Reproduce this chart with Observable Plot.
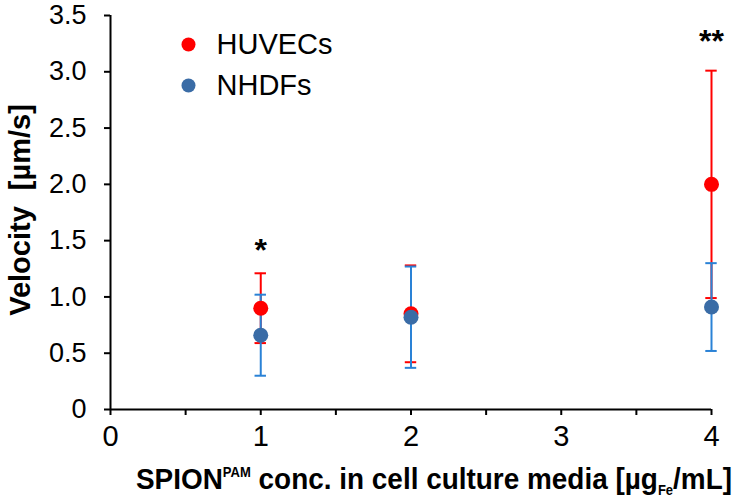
<!DOCTYPE html>
<html>
<head>
<meta charset="utf-8">
<script src="https://cdn.jsdelivr.net/npm/d3@7"></script>
<script src="https://cdn.jsdelivr.net/npm/@observablehq/plot@0.6"></script>
<style>
  html, body { margin: 0; padding: 0; background: white; }
  #chart svg { display: block; }
</style>
</head>
<body>
<div id="chart"></div>
<script>
// Data
const concentrations = [1, 2, 4];
const huvecMean = [0.90, 0.85, 2.00];
const huvecLow  = [0.59, 0.42, 0.99];
const huvecHigh = [1.21, 1.28, 3.01];
const nhdfMean  = [0.66, 0.82, 0.91];
const nhdfLow   = [0.30, 0.37, 0.52];
const nhdfHigh  = [1.02, 1.27, 1.30];
const sigX = [1, 4];
const sigLabel = ["*", "**"];
const sigY = [1.41, 3.27];
const seriesNames = ["HUVECs", "NHDFs"];
const yTicks = [0, 0.5, 1, 1.5, 2, 2.5, 3, 3.5];
const xTicks = [0, 0.5, 1, 1.5, 2, 2.5, 3, 3.5, 4];

const red = "#ff0000";
const blueDot = "#3a6ca6";
const blueBar = "#2a82d6";
const cap = 0.038;

const huvec = concentrations.map((x, i) => ({x, m: huvecMean[i], lo: huvecLow[i], hi: huvecHigh[i]}));
const nhdf = concentrations.map((x, i) => ({x, m: nhdfMean[i], lo: nhdfLow[i], hi: nhdfHigh[i]}));
const sig = sigX.map((x, i) => ({x, y: sigY[i], t: sigLabel[i]}));

function bars(data, color) {
  return [
    Plot.ruleX(data, {x: "x", y1: "lo", y2: "hi", stroke: color, strokeWidth: 2}),
    Plot.ruleY(data, {y: "hi", x1: d => d.x - cap, x2: d => d.x + cap, stroke: color, strokeWidth: 2}),
    Plot.ruleY(data, {y: "lo", x1: d => d.x - cap, x2: d => d.x + cap, stroke: color, strokeWidth: 2})
  ];
}

const chart = Plot.plot({
  width: 735,
  height: 500,
  marginLeft: 110,
  marginRight: 24,
  marginTop: 15,
  marginBottom: 91,
  style: {fontFamily: "'Liberation Sans', Arial, sans-serif", background: "white", color: "black"},
  x: {domain: [0, 4]},
  y: {domain: [0, 3.5]},
  marks: [
    Plot.axisY({ticks: yTicks, tickSize: 6, tickPadding: 18, fontSize: 27, strokeWidth: 2,
      tickFormat: d => d === 0 ? "0" : d.toFixed(1), label: null}),
    Plot.axisX({ticks: xTicks, tickSize: 6, tickPadding: 10, fontSize: 29, strokeWidth: 2,
      tickFormat: d => Number.isInteger(d) ? String(d) : "", label: null}),
    Plot.ruleY([0], {strokeWidth: 2}),
    Plot.ruleX([0], {strokeWidth: 2}),
    ...bars(huvec, red),
    ...bars(nhdf, blueBar),
    Plot.dot(huvec, {x: "x", y: "m", r: 7.5, fill: red}),
    Plot.dot(nhdf, {x: "x", y: "m", r: 7.5, fill: blueDot}),
    Plot.text(sig, {x: "x", y: "y", text: "t", fontSize: 32, fontWeight: "bold", lineAnchor: "middle"}),
    // legend
    Plot.dot([seriesNames[0]], {frameAnchor: "top-left", dx: 78, dy: 29, r: 7, fill: red}),
    Plot.dot([seriesNames[1]], {frameAnchor: "top-left", dx: 78, dy: 70, r: 7, fill: blueDot}),
    Plot.text([seriesNames[0]], {text: d => d, frameAnchor: "top-left", dx: 106, dy: 29, fontSize: 29, textAnchor: "start", lineAnchor: "middle"}),
    Plot.text([seriesNames[1]], {text: d => d, frameAnchor: "top-left", dx: 106, dy: 70, fontSize: 29, textAnchor: "start", lineAnchor: "middle"})
  ]
});

document.getElementById("chart").appendChild(chart);

const svg = d3.select(chart);
// Y axis label
svg.append("text")
  .attr("transform", "translate(30,210) rotate(-90)")
  .attr("text-anchor", "middle")
  .attr("font-size", 29)
  .attr("font-weight", "bold")
  .attr("font-family", "'Liberation Sans', Arial, sans-serif")
  .style("white-space", "pre")
  .text("Velocity  [µm/s]");

// X axis label with super/subscripts (slightly condensed, as in the reference)
const xl = svg.append("text")
  .attr("transform", "translate(434,489) scale(0.9,1)")
  .attr("text-anchor", "middle")
  .attr("font-size", 30)
  .attr("font-weight", "bold")
  .attr("font-family", "'Liberation Sans', Arial, sans-serif");
xl.append("tspan").text("SPION");
xl.append("tspan").attr("font-size", 14).attr("dy", -12).text("PAM");
xl.append("tspan").attr("dy", 12).text(" conc. in cell culture media [µg");
xl.append("tspan").attr("font-size", 14).attr("dy", 6).text("Fe");
xl.append("tspan").attr("dy", -6).text("/mL]");

// ensure it fits the reference span
const node = xl.node();
const w = node.getBBox().width;
const target = 596;
xl.attr("transform", `translate(434,489) scale(${target / w},1)`);
</script>
</body>
</html>
